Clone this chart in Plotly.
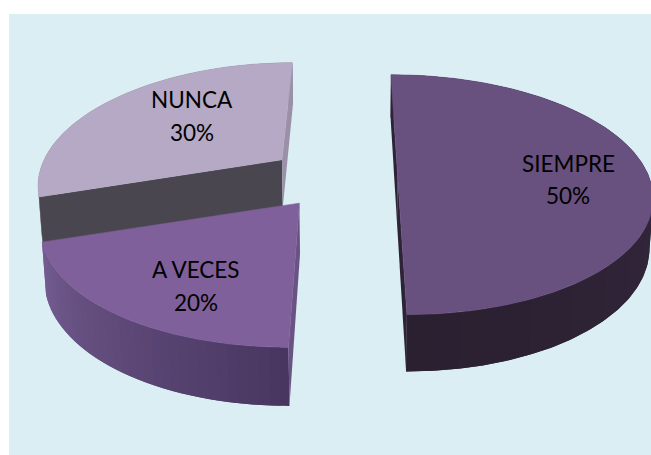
import numpy as np
import plotly.graph_objects as go

categories = ['SIEMPRE', 'A VECES', 'NUNCA']
values = [50, 20, 30]

TOP_COLORS = ['#68507f', '#7f609b', '#b5a9c5']
START_CUT = ['#2e2336', '#6a5285', '#4a4650']
END_CUT = ['#2e2336', '#6a5285', '#9a90a8']
RIM_LIGHT = ['#3d2d48', '#745c90', '#8f859f']
RIM_DARK = ['#2a2030', '#483660', '#8f859f']

# how far each slice is pulled out of the pie (ground plane), and its stretch
PULL_X = [0.185, -0.21, -0.297]
PULL_Y = [0.0, -0.24, 0.125]
RADIUS_X = [1.03, 1.0, 1.0]
RADIUS_Y = [1.0, 0.945, 1.02]
DRAW_ORDER = [2, 1, 0]

# label centres, pixels
NAME_POS = [(568, 163), (196, 269), (192, 99)]
PCT_POS = [(568, 195), (196, 302), (192, 132)]

W, H = 651, 455
XV, Y0 = 352.6, 174
SX, SY = 243, 116.4
DEPTH, K, M = 49.5, 0.172, 0.012
STEPS = 36


def project(X, Y, Z=0.0):
    d = 1 + K * Y - M * Z
    return XV + X * SX / d, Y0 + (-Y * SY - Z * DEPTH) / d


def polygon(xs, ys, color, width=0.6):
    return go.Scatter(x=list(xs), y=list(ys), mode='lines', fill='toself', fillcolor=color,
                      line={'color': color, 'width': width}, hoverinfo='skip', showlegend=False)


def mix(c1, c2, t):
    a = [int(c1[i:i + 2], 16) for i in (1, 3, 5)]
    b = [int(c2[i:i + 2], 16) for i in (1, 3, 5)]
    return 'rgb({},{},{})'.format(*[round(p + (q - p) * t) for p, q in zip(a, b)])


def slice_traces(i, start, end):
    traces = []
    px, py = PULL_X[i], PULL_Y[i]
    t = np.radians(np.linspace(start, end, 180))
    rx, ry = px + RADIUS_X[i] * np.sin(t), py + RADIUS_Y[i] * np.cos(t)

    # outer wall, shaded in steps; each step overlaps the next so no seams show
    edges = np.linspace(0, len(t) - 1, STEPS + 1).astype(int)
    for n in range(STEPS):
        a, b = edges[n], edges[min(n + 2, STEPS)]
        u = np.r_[rx[a:b + 1], rx[a:b + 1][::-1]]
        v = np.r_[ry[a:b + 1], ry[a:b + 1][::-1]]
        z = np.r_[np.zeros(b - a + 1), -np.ones(b - a + 1)]
        xa, ya = project(u, v, z)
        frac = n / (STEPS - 1)
        if i == 1:
            frac = 1 - frac
        traces.append(polygon(xa, ya, mix(RIM_LIGHT[i], RIM_DARK[i], frac), 0))

    # cut faces, only the ones turned to the viewer
    for j, sign, color in ((0, -1, START_CUT[i]), (-1, 1, END_CUT[i])):
        xa, ya = project(np.array([px, rx[j], rx[j], px]), np.array([py, ry[j], ry[j], py]),
                         np.array([0, 0, -1, -1]))
        area = np.sum(xa * np.roll(ya, -1) - np.roll(xa, -1) * ya)
        if area * sign > 0:
            traces.append(polygon(xa, ya, color, 0))

    # top face
    xa, ya = project(np.r_[px, rx, px], np.r_[py, ry, py])
    traces.append(polygon(xa, ya, TOP_COLORS[i]))
    return traces


# angles run clockwise from twelve o'clock
stops = np.r_[0, np.cumsum(values)] / sum(values) * 360

fig = go.Figure()
for i in DRAW_ORDER:
    for tr in slice_traces(i, stops[i], stops[i + 1]):
        fig.add_trace(tr)

for i, name in enumerate(categories):
    for pos, text in ((NAME_POS[i], name), (PCT_POS[i], f'{values[i]}%')):
        fig.add_annotation(x=pos[0], y=pos[1], text=text, showarrow=False, xanchor='center', yanchor='middle',
                           font={'family': 'Lato, Carlito, sans-serif', 'size': 22.5, 'color': '#000000'})

fig.add_shape(type='rect', x0=9, y0=14, x1=W, y1=H, layer='below', line={'width': 0}, fillcolor='#daeef3')
fig.update_xaxes(range=[0, W], visible=False)
fig.update_yaxes(range=[H, 0], visible=False)
fig.update_layout(width=W, height=H, margin={'l': 0, 'r': 0, 't': 0, 'b': 0}, showlegend=False,
                  paper_bgcolor='#ffffff', plot_bgcolor='#ffffff')

fig.write_html('out.html', config={'displayModeBar': False},
               post_script="document.body.style.margin='0';document.body.style.overflow='hidden';")
